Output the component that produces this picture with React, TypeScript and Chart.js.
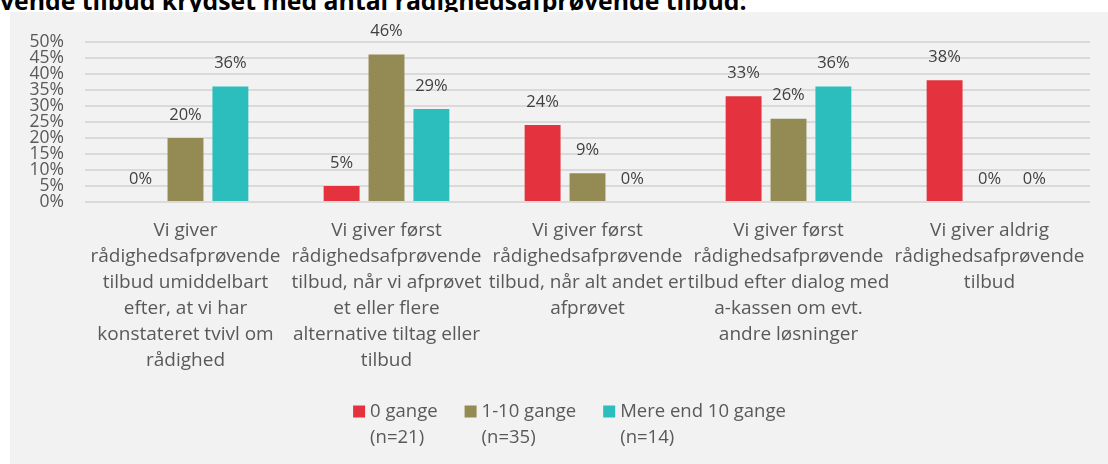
import React, { useEffect, useRef } from "react";
import { Chart, registerables } from "chart.js";

Chart.register(...registerables);

const TITLE_TEXT = "vende tilbud krydset med antal rådighedsafprøvende tilbud:";

const categories: string[][] = [
  ["Vi giver", "rådighedsafprøvende", "tilbud umiddelbart", "efter, at vi har", "konstateret tvivl om", "rådighed"],
  ["Vi giver først", "rådighedsafprøvende", "tilbud, når vi afprøvet", "et eller flere", "alternative tiltag eller", "tilbud"],
  ["Vi giver først", "rådighedsafprøvende", "tilbud, når alt andet er", "afprøvet"],
  ["Vi giver først", "rådighedsafprøvende", "tilbud efter dialog med", "a-kassen om evt.", "andre løsninger"],
  ["Vi giver aldrig", "rådighedsafprøvende", "tilbud"],
];

const seriesNames: string[][] = [
  ["0 gange", "(n=21)"],
  ["1-10 gange", "(n=35)"],
  ["Mere end 10 gange", "(n=14)"],
];

const zeroTimes = [0, 5, 24, 33, 38];
const oneToTen = [20, 46, 9, 26, 0];
const moreThanTen = [36, 29, 0, 36, 0];

const yTicks = [0, 5, 10, 15, 20, 25, 30, 35, 40, 45, 50];

const colors = ["#E5323F", "#948A54", "#2CBEBC"];
const FONT = "'Open Sans', 'Noto Sans', sans-serif";

const dataLabelPlugin = {
  id: "dataLabels",
  afterDatasetsDraw(chart: any) {
    const ctx = chart.ctx;
    ctx.save();
    ctx.font = `16.5px ${FONT}`;
    ctx.fillStyle = "#404040";
    ctx.textAlign = "center";
    ctx.textBaseline = "middle";
    chart.data.datasets.forEach((ds: any, di: number) => {
      const meta = chart.getDatasetMeta(di);
      meta.data.forEach((el: any, i: number) => {
        const v = ds.data[i];
        ctx.fillText(`${v}%`, el.x, el.y - 23);
      });
    });
    ctx.restore();
  },
};

const legendPlugin = {
  id: "customLegend",
  afterDraw(chart: any) {
    const ctx = chart.ctx;
    ctx.save();
    ctx.font = `18.5px ${FONT}`;
    ctx.textBaseline = "middle";
    ctx.textAlign = "left";
    const box = 12;
    const gapText = 5;
    const gapItem = 27;
    const lineH = 26;
    const widths = seriesNames.map((lines) =>
      Math.max(...lines.map((l) => ctx.measureText(l).width))
    );
    const total =
      widths.reduce((a, w) => a + box + gapText + w, 0) + gapItem * (widths.length - 1);
    let x = 559.5 - total / 2;
    const y0 = 399.5;
    chart.data.datasets.forEach((ds: any, i: number) => {
      ctx.fillStyle = ds.backgroundColor;
      ctx.fillRect(x, y0 - box / 2, box, box);
      ctx.fillStyle = "#595959";
      seriesNames[i].forEach((line, li) => {
        ctx.fillText(line, x + box + gapText, y0 + li * lineH);
      });
      x += box + gapText + widths[i] + gapItem;
    });
    ctx.restore();
  },
};

export default function App() {
  const ref = useRef<HTMLCanvasElement | null>(null);

  useEffect(() => {
    if (!ref.current) return;
    const chart = new Chart(ref.current, {
      type: "bar",
      data: {
        labels: categories,
        datasets: [
          { label: seriesNames[0].join(" "), data: zeroTimes, backgroundColor: colors[0] },
          { label: seriesNames[1].join(" "), data: oneToTen, backgroundColor: colors[1] },
          { label: seriesNames[2].join(" "), data: moreThanTen, backgroundColor: colors[2] },
        ],
      },
      options: {
        responsive: false,
        animation: false,
        devicePixelRatio: 1,
        layout: { padding: { top: 29, right: 18, bottom: 90, left: 0 } },
        datasets: {
          bar: { categoryPercentage: 0.67, barPercentage: 0.8 },
        },
        scales: {
          x: {
            afterFit: (scale: any) => {
              scale.height = 172;
            },
            grid: { display: false, drawTicks: false },
            border: { display: false },
            ticks: {
              autoSkip: false,
              maxRotation: 0,
              minRotation: 0,
              padding: 16,
              color: "#595959",
              font: { family: FONT, size: 19, lineHeight: 1.36 },
            },
          },
          y: {
            min: 0,
            max: 50,
            afterBuildTicks: (scale: any) => {
              scale.ticks = yTicks.map((v) => ({ value: v }));
            },
            afterFit: (scale: any) => {
              scale.width = 75;
            },
            grid: { color: "#DADADA", lineWidth: 2, drawTicks: false },
            border: { display: false },
            ticks: {
              autoSkip: false,
              padding: 21,
              color: "#595959",
              font: { family: FONT, size: 17.5, lineHeight: 1 },
              callback: (v: any) => `${v}%`,
            },
          },
        },
        plugins: {
          tooltip: { enabled: false },
          legend: { display: false },
        },
      },
      plugins: [dataLabelPlugin, legendPlugin],
    } as any);
    return () => chart.destroy();
  }, []);

  return (
    <div
      style={{
        position: "absolute",
        left: 0,
        top: 0,
        width: 1108,
        height: 464,
        background: "#ffffff",
        overflow: "hidden",
      }}
    >
      <div
        style={{
          position: "absolute",
          left: 0,
          top: -12,
          whiteSpace: "nowrap",
          fontFamily: FONT,
          fontWeight: 700,
          fontSize: 24.8,
          lineHeight: "24.8px",
          color: "#000000",
        }}
      >
        {TITLE_TEXT}
      </div>
      <div
        style={{
          position: "absolute",
          left: 10,
          top: 12,
          width: 1098,
          height: 452,
          background: "#F2F2F2",
        }}
      >
        <canvas ref={ref} width={1098} height={452} style={{ display: "block" }} />
      </div>
    </div>
  );
}
